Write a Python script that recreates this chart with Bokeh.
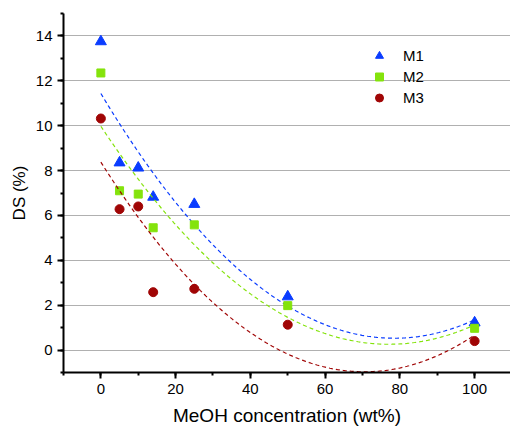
import numpy as np
from bokeh.plotting import figure
from bokeh.models import SingleIntervalTicker, Range1d, Legend, LegendItem
from bokeh.embed import file_html
from bokeh.resources import INLINE

# data
meoh = [0, 5, 10, 14, 25, 50, 100]
m1 = [13.75, 8.35, 8.12, 6.82, 6.5, 2.38, 1.22]
m2 = [12.35, 7.1, 6.95, 5.45, 5.58, 1.98, 0.97]
m3 = [10.32, 6.28, 6.4, 2.58, 2.73, 1.13, 0.4]
series_names = ["M1", "M2", "M3"]
colors = ["#0a3cff", "#84e30c", "#a00505"]
markers = ["triangle", "square", "circle"]
sizes = [11, 8, 9]

FONT = "Liberation Sans"

p = figure(width=510, height=428, output_backend="svg", toolbar_location=None,
           x_range=Range1d(-10, 109.6), y_range=Range1d(-1, 15),
           min_border_left=63, min_border_top=13, min_border_bottom=55, min_border_right=0)
p.outline_line_color = None
p.xgrid.grid_line_color = None
p.ygrid.grid_line_color = "#b0b0b0"
p.ygrid.grid_line_width = 1

p.xaxis.ticker = SingleIntervalTicker(interval=20, num_minor_ticks=2)
p.yaxis.ticker = SingleIntervalTicker(interval=2, num_minor_ticks=2)

for ax in (p.xaxis, p.yaxis):
    ax.axis_line_width = 2
    ax.axis_line_color = "black"
    ax.major_tick_line_width = 2
    ax.minor_tick_line_width = 2
    ax.major_tick_out = 6
    ax.major_tick_in = 0
    ax.minor_tick_out = 3
    ax.minor_tick_in = 0
    ax.major_label_text_font = FONT
    ax.major_label_text_font_size = "15px"
    ax.major_label_text_color = "black"
    ax.axis_label_text_font = FONT
    ax.axis_label_text_font_style = "normal"
    ax.axis_label_text_color = "black"

p.xaxis.axis_label = "MeOH concentration (wt%)"
p.xaxis.axis_label_text_font_size = "19px"
p.xaxis.major_label_standoff = 5
p.xaxis.axis_label_standoff = 8
p.yaxis.axis_label = "DS (%)"
p.yaxis.axis_label_text_font_size = "17px"
p.yaxis.major_label_standoff = 5
p.yaxis.axis_label_standoff = 4

xs_fit = np.linspace(0, 100, 200)
items = []
for name, ys, c, mk, sz in zip(series_names, [m1, m2, m3], colors, markers, sizes):
    coef = np.polyfit(meoh, ys, 2)
    p.line(xs_fit, np.polyval(coef, xs_fit), line_color=c, line_width=1.2, line_dash="4 3")
    r = p.scatter(meoh, ys, marker=mk, size=sz, fill_color=c, line_color=c)
    items.append(LegendItem(label=name, renderers=[r]))

legend = Legend(items=items, location=(306, 264), margin=0, padding=0, spacing=0,
                glyph_width=20, glyph_height=21, label_height=21, label_standoff=14,
                background_fill_alpha=0, border_line_alpha=0,
                label_text_font=FONT, label_text_font_size="15px",
                label_text_color="black")
p.add_layout(legend)

open("out.html", "w").write(file_html(p, INLINE))
